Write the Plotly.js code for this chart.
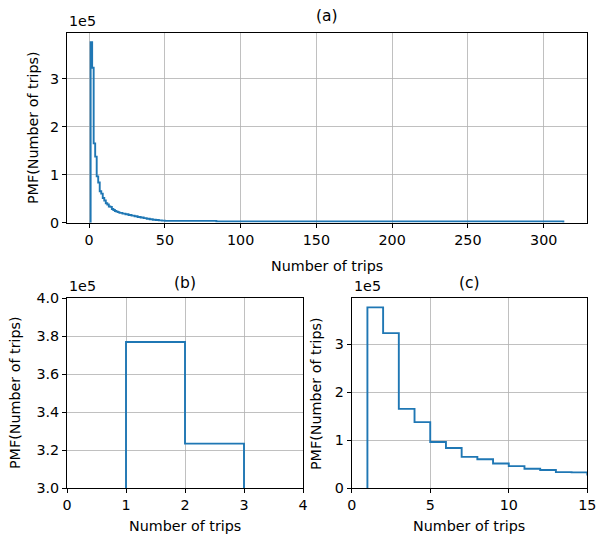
<!DOCTYPE html>
<html>
<head>
<meta charset="utf-8">
<script src="https://cdn.plot.ly/plotly-3.0.1.min.js"></script>
<style>html,body{margin:0;padding:0;background:#fff;}#chart{width:603px;height:542px;}</style>
</head>
<body>
<div id="chart"></div>
<script>
// Histogram bin edges (number of trips) and PMF values (in units of 1e5)
const binEdges = [1,2,3,4,5,6,7,8,9,10,11,12,13,14,15,16,17,18,19,20,22,24,26,28,30,32,34,36,38,40,42,44,46,48,50,84,313];
const pmfE5 = [3.77,3.235,1.655,1.38,0.966,0.84,0.655,0.607,0.517,0.462,0.407,0.38,0.338,0.331,0.285,0.265,0.245,0.232,0.22,0.205,0.19,0.175,0.16,0.148,0.135,0.12,0.108,0.095,0.083,0.072,0.062,0.055,0.048,0.043,0.038,0.028,0.006];

const panelTitles = ['(a)', '(b)', '(c)'];
const xTitle = 'Number of trips';
const yTitle = 'PMF(Number of trips)';
const offsetLabel = '1e5';

const n = pmfE5.length;
const stepX = [binEdges[0]].concat(binEdges.slice(0, n), [binEdges[n]]);
const stepY = [0].concat(pmfE5, [0]);

const lineStyle = {color: '#1f77b4', width: 1.9, shape: 'hv'};
const traces = ['', '2', '3'].map(s => ({
  x: stepX, y: stepY, type: 'scatter', mode: 'lines', line: lineStyle,
  xaxis: 'x' + s, yaxis: 'y' + s, hoverinfo: 'skip', showlegend: false
}));

const W = 603, H = 542;
const fx = p => p / W, fy = p => 1 - p / H;
const font = {family: 'DejaVu Sans, sans-serif', size: 14.3, color: '#000'};
const titleFont = {family: 'DejaVu Sans, sans-serif', size: 15.5, color: '#000'};
function ax(extra) {
  return Object.assign({
    showline: true, mirror: true, linecolor: '#000', linewidth: 1,
    ticks: 'outside', ticklen: 4, tickcolor: '#000', tickwidth: 1,
    showgrid: true, gridcolor: '#b0b0b0', gridwidth: 0.8, zeroline: false,
    tickfont: font, fixedrange: true
  }, extra);
}
function ann(text, px, py, opts) {
  return Object.assign({text: text, x: fx(px), y: fy(py), xref: 'paper', yref: 'paper',
    showarrow: false, font: font, xanchor: 'center', yanchor: 'middle'}, opts || {});
}

const layout = {
  width: W, height: H, margin: {l: 0, r: 0, t: 0, b: 0},
  paper_bgcolor: '#fff', plot_bgcolor: '#fff', font: font, showlegend: false,
  xaxis: ax({domain: [fx(67), fx(587)], range: [-14.6, 328.6], tickvals: [0,50,100,150,200,250,300], anchor: 'y'}),
  yaxis: ax({domain: [fy(222.7), fy(33)], range: [0, 3.96], tickvals: [0,1,2,3], anchor: 'x'}),
  xaxis2: ax({domain: [fx(67), fx(303)], range: [0, 4], tickvals: [0,1,2,3,4], anchor: 'y2'}),
  yaxis2: ax({domain: [fy(488.3), fy(298.3)], range: [3.0, 4.0], tickvals: [3.0,3.2,3.4,3.6,3.8,4.0], tickformat: '.1f', anchor: 'x2'}),
  xaxis3: ax({domain: [fx(351.7), fx(587.3)], range: [0, 15], tickvals: [0,5,10,15], anchor: 'y3'}),
  yaxis3: ax({domain: [fy(488.3), fy(298.3)], range: [0, 3.96], tickvals: [0,1,2,3], anchor: 'x3'}),
  annotations: [
    ann(panelTitles[0], 327, 16, {font: titleFont}),
    ann(panelTitles[1], 185, 283, {font: titleFont}),
    ann(panelTitles[2], 469, 283, {font: titleFont}),
    ann(offsetLabel, 67, 31, {xanchor: 'left', yanchor: 'bottom'}),
    ann(offsetLabel, 67, 296, {xanchor: 'left', yanchor: 'bottom'}),
    ann(offsetLabel, 351.7, 296, {xanchor: 'left', yanchor: 'bottom'}),
    ann(xTitle, 327, 266),
    ann(xTitle, 185, 526),
    ann(xTitle, 469, 526),
    ann(yTitle, 33, 128, {textangle: -90}),
    ann(yTitle, 15, 393, {textangle: -90}),
    ann(yTitle, 316, 393, {textangle: -90})
  ]
};

Plotly.newPlot('chart', traces, layout, {displayModeBar: false, staticPlot: true});
</script>
</body>
</html>
